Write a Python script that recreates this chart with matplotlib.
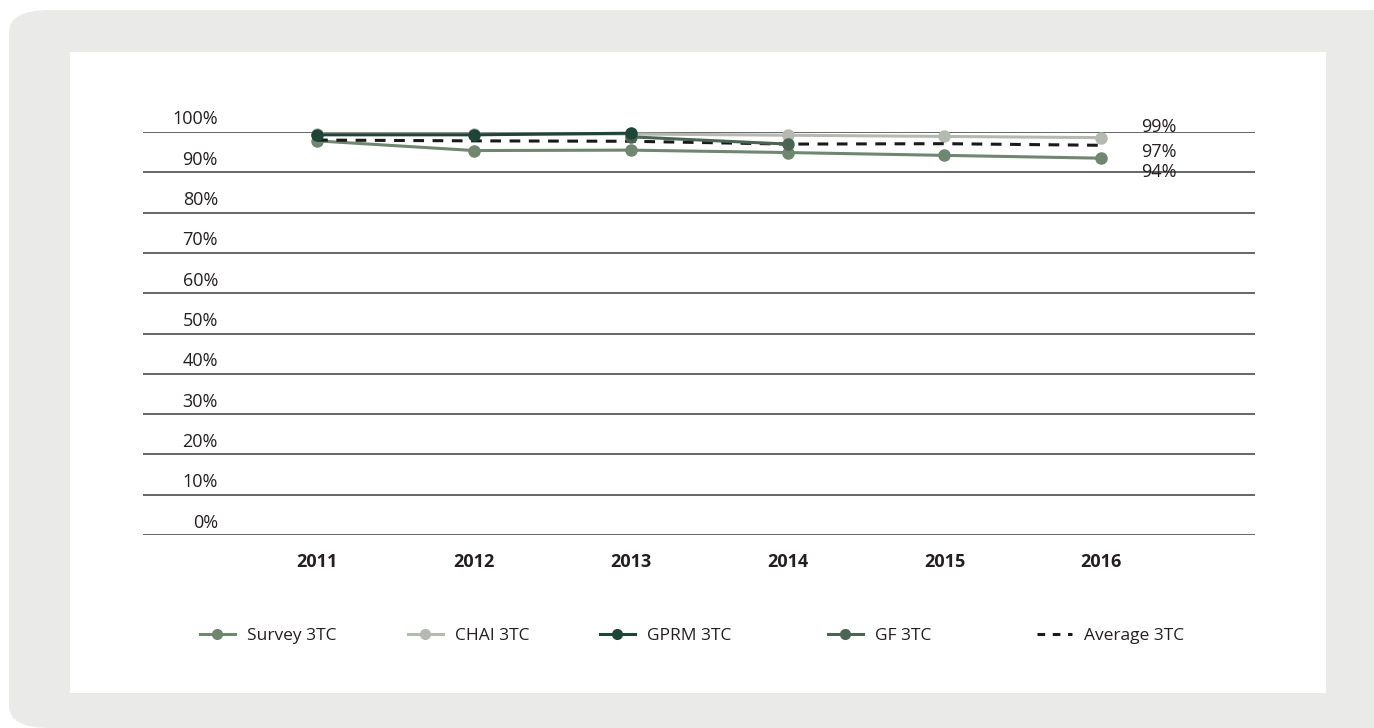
import numpy as np
import matplotlib
matplotlib.use("Agg")
import matplotlib.pyplot as plt
from matplotlib.patches import FancyBboxPatch, Rectangle
from matplotlib.lines import Line2D

# %% Data

years = ["2011", "2012", "2013", "2014", "2015", "2016"]
survey = [97.8, 95.4, 95.5, 94.9, 94.2, 93.5]
chai = [99.5, 99.5, 99.5, 99.2, 98.9, 98.6]
gprm = [99.3, 99.3, 99.7, np.nan, np.nan, np.nan]
gf = [np.nan, np.nan, 98.8, 97.0, np.nan, np.nan]
average = [98.0, 97.8, 97.7, 97.0, 97.1, 96.7]
end_labels = ["99%", "97%", "94%"]
end_label_y = [101.2, 95.0, 90.1]
yticks = list(range(0, 101, 10))

c_survey = "#6f8670"
c_chai = "#b4bab2"
c_gprm = "#1f4538"
c_gf = "#4b6555"

plt.rcParams['font.family'] = ['Open Sans', 'DejaVu Sans']

# %% Figure + background panels

W, H = 1374, 728
fig = plt.figure(figsize=(W / 100, H / 100), dpi=100)
fig.patch.set_facecolor("white")

bg = FancyBboxPatch((9 / W, 0), 1.2, 1 - 10 / H, boxstyle="round,pad=0,rounding_size=0.03",
                    transform=fig.transFigure, facecolor="#eaebe9", edgecolor="none", zorder=0)
fig.patches.append(bg)
panel = Rectangle((70 / W, (H - 693) / H), (1326 - 70) / W, (693 - 52) / H,
                  transform=fig.transFigure, facecolor="white", edgecolor="none", zorder=0.5)
fig.patches.append(panel)

# %% Axes

ax = fig.add_axes([143 / W, (H - 535) / H, (1255 - 143) / W, (535 - 132) / H])
ax.set_zorder(2)
ax.set_facecolor("none")
x = np.arange(len(years))
ax.set_xlim(-1.11, 5.98)
ax.set_ylim(0, 100)

for y in yticks:
    ax.axhline(y, color="#5a5a5a", lw=1.3, zorder=1)
    ax.annotate(f"{y}%", xy=(0.0674, y), xycoords=("axes fraction", "data"),
                xytext=(0, 9), textcoords="offset points",
                ha="right", va="center", fontsize=13, color="#231f20")

ms = 8
lw = 2.2
ax.plot(x, chai, color=c_chai, marker="o", ms=ms, lw=lw, zorder=3, clip_on=False)
ax.plot(x, survey, color=c_survey, marker="o", ms=ms, lw=lw, zorder=4, clip_on=False)
ax.plot(x, average, color="#1a1a1a", lw=2.2, ls=(0, (3.5, 2.8)), zorder=5, clip_on=False)
ax.plot(x, gf, color=c_gf, marker="o", ms=ms, lw=lw, zorder=6, clip_on=False)
ax.plot(x, gprm, color=c_gprm, marker="o", ms=ms, lw=lw, zorder=7, clip_on=False)

for lab, yy in zip(end_labels, end_label_y):
    ax.text(5.255, yy, lab, ha="left", va="center", fontsize=13, color="#231f20")

ax.set_xticks(x)
ax.set_xticklabels(years, fontsize=13, fontweight="bold", color="#231f20")
ax.tick_params(axis="x", length=0, pad=13)
ax.set_yticks([])
for s in ax.spines.values():
    s.set_visible(False)

# %% Legend (one entry per slot, like the original layout)

handles = [
    Line2D([], [], color=c_survey, marker="o", ms=7, lw=2.2),
    Line2D([], [], color=c_chai, marker="o", ms=7, lw=2.2),
    Line2D([], [], color=c_gprm, marker="o", ms=7, lw=2.2),
    Line2D([], [], color=c_gf, marker="o", ms=7, lw=2.2),
    Line2D([], [], color="#1a1a1a", lw=2.2, ls=(0, (2.5, 2.5))),
]
labels = ["Survey 3TC", "CHAI 3TC", "GPRM 3TC", "GF 3TC", "Average 3TC"]
slots = [200, 408, 600, 828, 1037]
for h, lab, sx in zip(handles, labels, slots):
    leg = fig.legend([h], [lab], loc="center left", bbox_to_anchor=(sx / W, (H - 636) / H),
                     frameon=False, fontsize=12.5, handlelength=2.0, handletextpad=0.7,
                     borderpad=0, borderaxespad=0, labelcolor="#231f20")
    leg.set_zorder(3)

fig.savefig("out.png", dpi=100, facecolor=fig.get_facecolor())
